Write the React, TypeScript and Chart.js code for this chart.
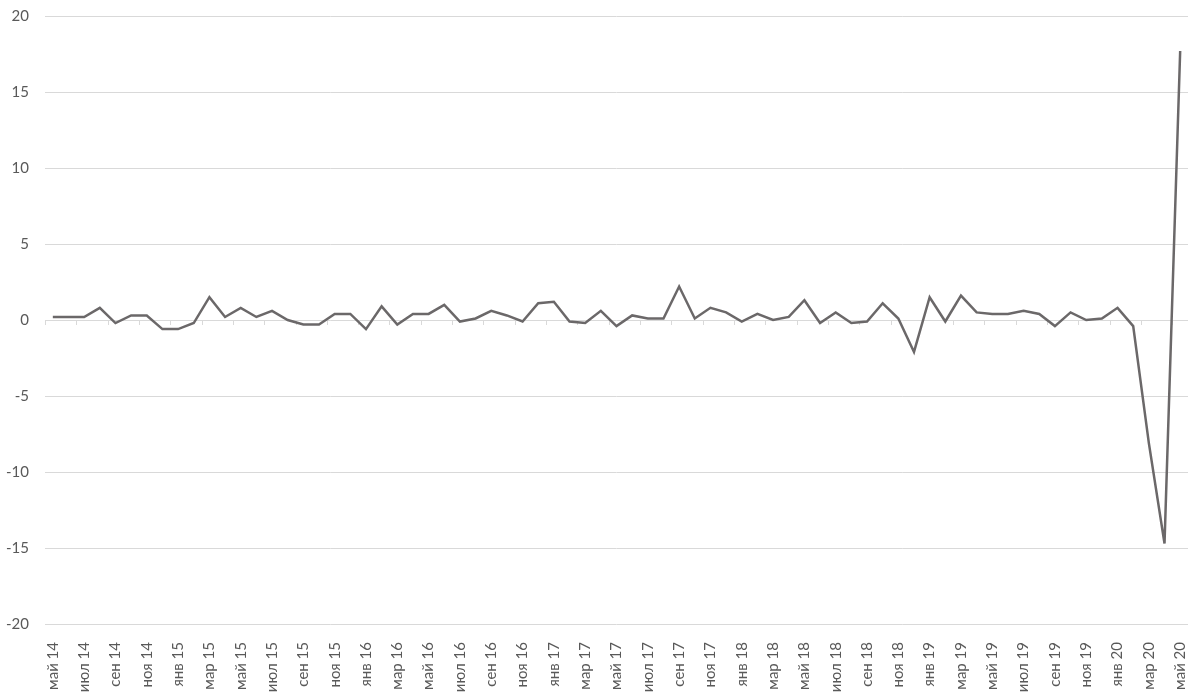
import { useEffect, useRef } from 'react';
import { Chart, registerables } from 'chart.js';

Chart.register(...registerables);

const categories: string[] = [
  'май 14', 'июн 14', 'июл 14', 'авг 14', 'сен 14', 'окт 14', 'ноя 14', 'дек 14',
  'янв 15', 'фев 15', 'мар 15', 'апр 15', 'май 15', 'июн 15', 'июл 15', 'авг 15', 'сен 15', 'окт 15', 'ноя 15', 'дек 15',
  'янв 16', 'фев 16', 'мар 16', 'апр 16', 'май 16', 'июн 16', 'июл 16', 'авг 16', 'сен 16', 'окт 16', 'ноя 16', 'дек 16',
  'янв 17', 'фев 17', 'мар 17', 'апр 17', 'май 17', 'июн 17', 'июл 17', 'авг 17', 'сен 17', 'окт 17', 'ноя 17', 'дек 17',
  'янв 18', 'фев 18', 'мар 18', 'апр 18', 'май 18', 'июн 18', 'июл 18', 'авг 18', 'сен 18', 'окт 18', 'ноя 18', 'дек 18',
  'янв 19', 'фев 19', 'мар 19', 'апр 19', 'май 19', 'июн 19', 'июл 19', 'авг 19', 'сен 19', 'окт 19', 'ноя 19', 'дек 19',
  'янв 20', 'фев 20', 'мар 20', 'апр 20', 'май 20',
];

const values: number[] = [
  0.2, 0.2, 0.2, 0.8, -0.2, 0.3, 0.3, -0.6,
  -0.6, -0.2, 1.5, 0.2, 0.8, 0.2, 0.6, 0.0, -0.3, -0.3, 0.4, 0.4,
  -0.6, 0.9, -0.3, 0.4, 0.4, 1.0, -0.1, 0.1, 0.6, 0.3, -0.1, 1.1,
  1.2, -0.1, -0.2, 0.6, -0.4, 0.3, 0.1, 0.1, 2.2, 0.1, 0.8, 0.5,
  -0.1, 0.4, 0.0, 0.2, 1.3, -0.2, 0.5, -0.2, -0.1, 1.1, 0.1, -2.1,
  1.5, -0.1, 1.6, 0.5, 0.4, 0.4, 0.6, 0.4, -0.4, 0.5, 0.0, 0.1,
  0.8, -0.4, -8.1, -14.7, 17.7,
];

const yMin = -20;
const yMax = 20;
const yStep = 5;

const FONT = 'Lato, "Open Sans", "DejaVu Sans", sans-serif';
const TEXT_COLOR = '#595959';
const GRID_COLOR = '#d9d9d9';
const LINE_COLOR = '#6b6869';

const zeroAxisTicks = {
  id: 'zeroAxisTicks',
  beforeDatasetsDraw(chart: any) {
    const x = chart.scales.x;
    const y = chart.scales.y;
    const ctx = chart.ctx;
    const y0 = y.getPixelForValue(0);
    const n = categories.length;
    const w = (chart.chartArea.right - chart.chartArea.left) / n;
    ctx.save();
    ctx.strokeStyle = GRID_COLOR;
    ctx.lineWidth = 1;
    ctx.beginPath();
    for (let i = 0; i <= n; i += 2) {
      const px = Math.round(x.getPixelForValue(0) - w / 2 + i * w) + 0.5;
      ctx.moveTo(px, y0);
      ctx.lineTo(px, y0 + 5);
    }
    ctx.stroke();
    ctx.restore();
  },
};

export default function App() {
  const ref = useRef<HTMLCanvasElement | null>(null);

  useEffect(() => {
    document.body.style.margin = '0';
    if (!ref.current) return;
    const chart = new Chart(ref.current, {
      type: 'line',
      data: {
        labels: categories,
        datasets: [
          {
            data: values,
            borderColor: LINE_COLOR,
            borderWidth: 2.5,
            pointRadius: 0,
            tension: 0,
            fill: false,
          },
        ],
      },
      options: {
        responsive: false,
        animation: false,
        layout: { padding: { top: 16, right: 12, left: 0, bottom: 0 } },
        plugins: {
          legend: { display: false },
          tooltip: { enabled: false },
        },
        scales: {
          x: {
            type: 'category',
            offset: true,
            grid: { display: false },
            border: { display: false },
            ticks: {
              autoSkip: false,
              maxRotation: 90,
              minRotation: 90,
              padding: 10,
              color: TEXT_COLOR,
              font: { family: FONT, size: 15 },
              callback: (_v: any, i: number) => (i % 2 === 0 ? categories[i] : ''),
            },
            afterFit: (s: any) => {
              s.height = 70;
              s.paddingLeft = 0;
              s.paddingRight = 0;
            },
          },
          y: {
            min: yMin,
            max: yMax,
            grid: { color: GRID_COLOR, lineWidth: 1, drawTicks: false },
            border: { display: false },
            ticks: {
              stepSize: yStep,
              padding: 16,
              color: TEXT_COLOR,
              font: { family: FONT, size: 15 },
            },
            afterFit: (s: any) => {
              s.width = 45;
              s.paddingTop = 0;
              s.paddingBottom = 0;
            },
          },
        },
      },
      plugins: [zeroAxisTicks],
    });
    return () => chart.destroy();
  }, []);

  return (
    <div style={{ width: 1200, height: 694, background: '#ffffff' }}>
      <canvas ref={ref} width={1200} height={694} />
    </div>
  );
}
